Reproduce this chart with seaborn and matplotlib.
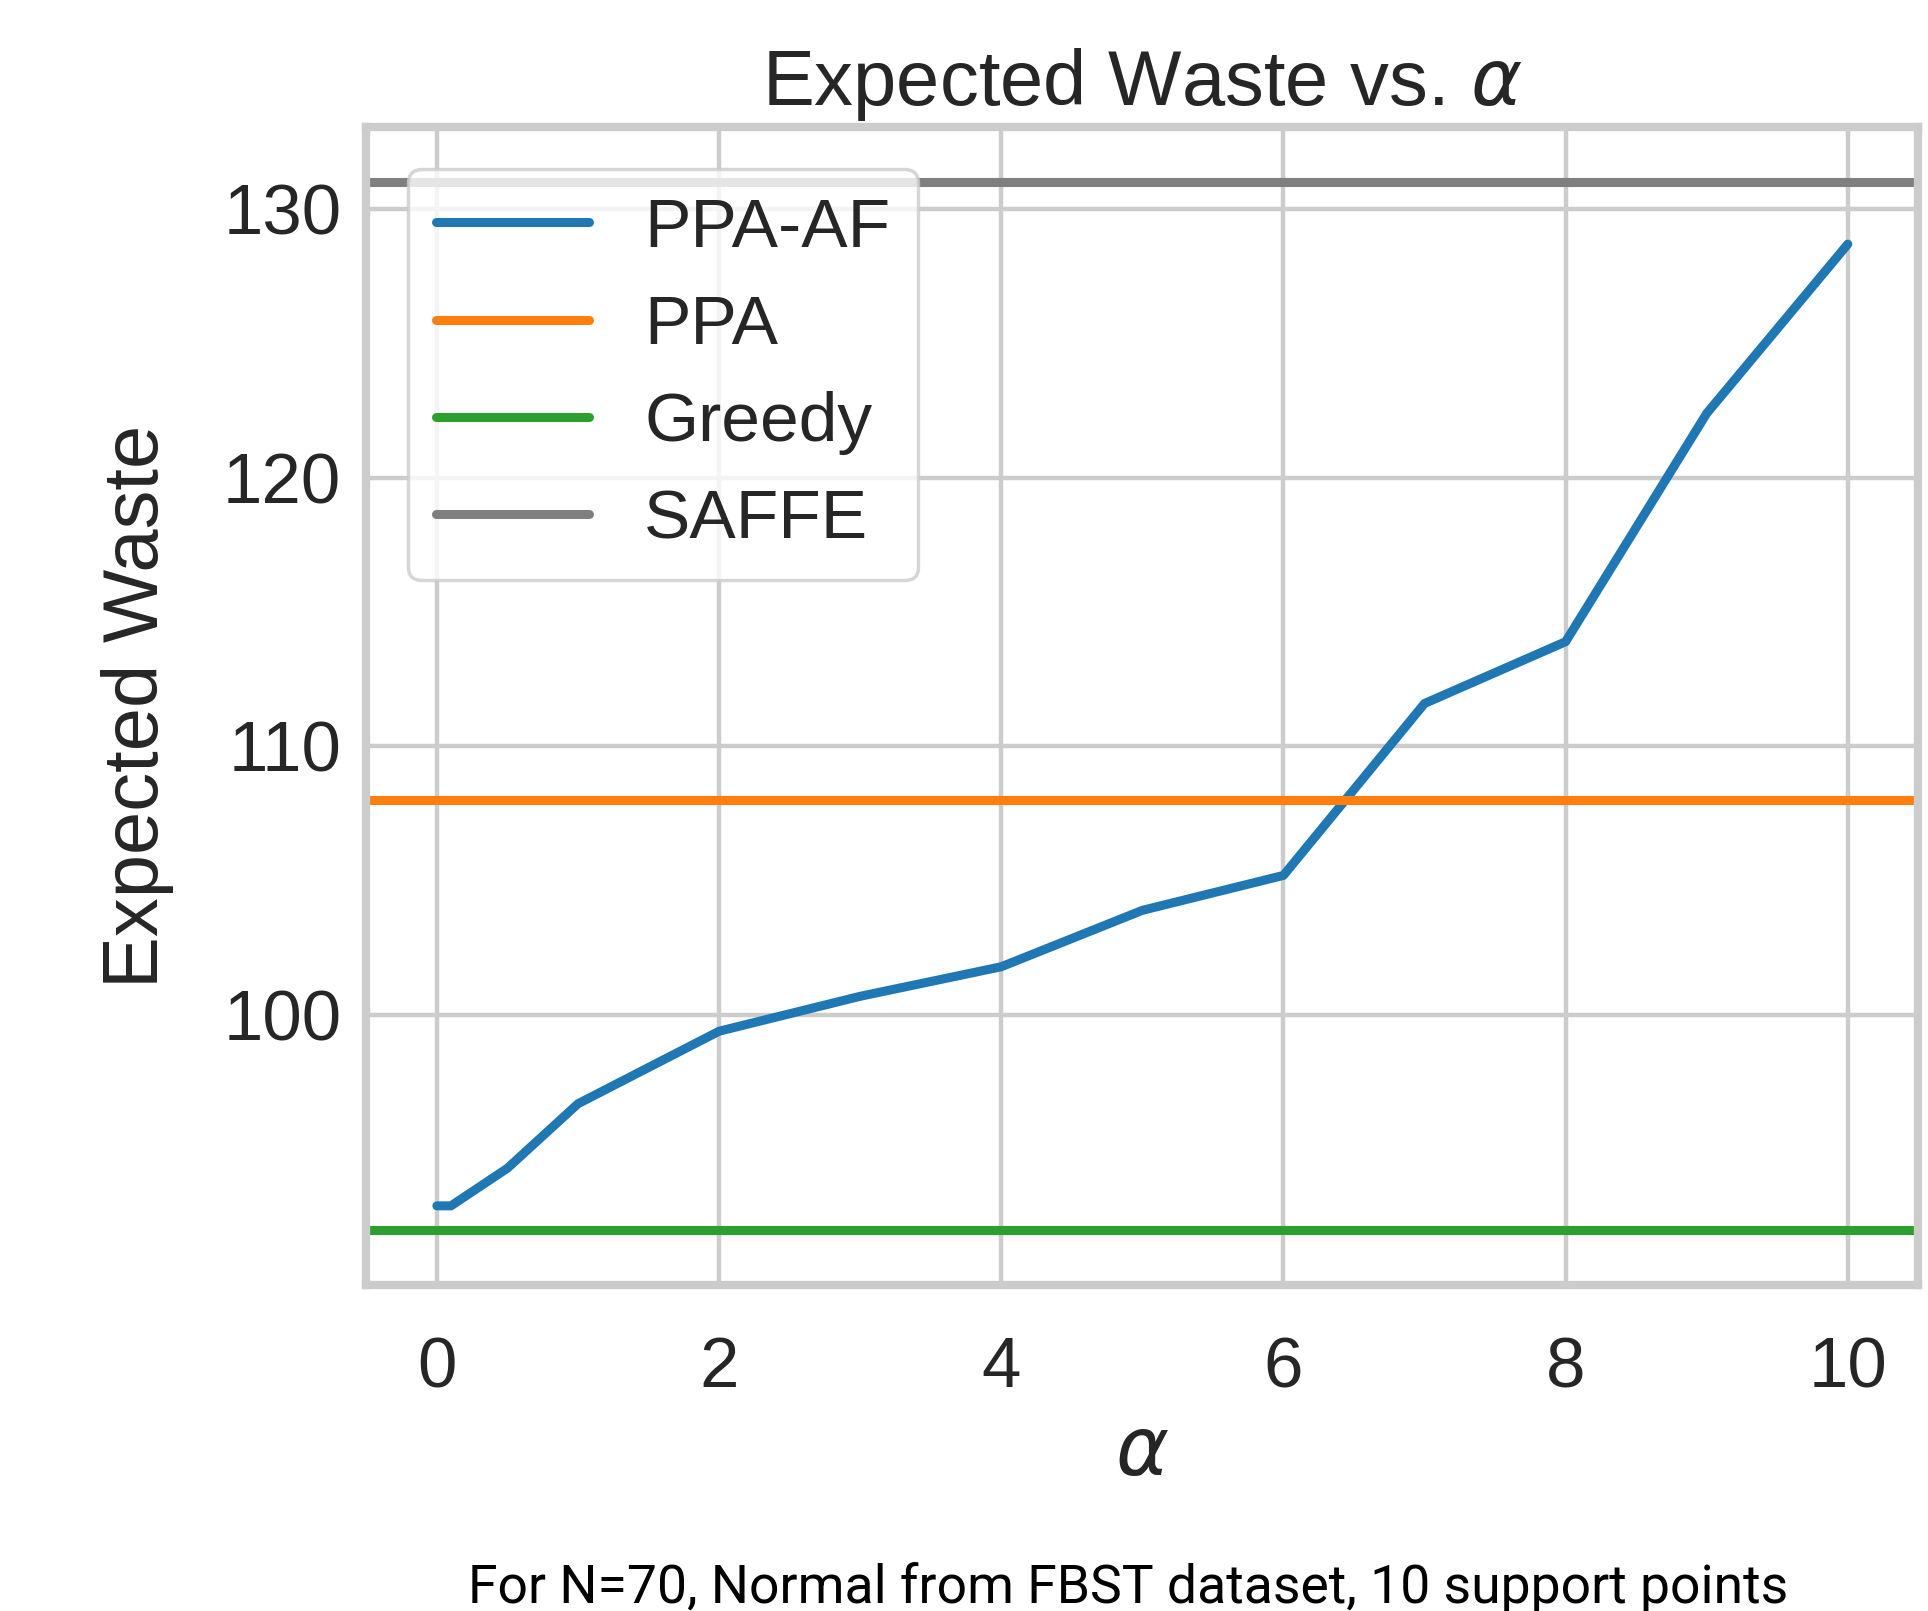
import numpy as np
import pandas as pd
import seaborn as sns
import matplotlib.pyplot as plt

sns.set_theme(style="whitegrid")
plt.rcParams['font.family'] = ['Liberation Sans', 'DejaVu Sans']

# values
alpha = [0, 0.1, 0.5, 1, 2, 3, 4, 5, 6, 7, 8, 9, 10]
ppa_af = [92.9, 92.9, 94.3, 96.7, 99.4, 100.7, 101.8, 103.9, 105.2, 111.6, 113.9, 122.4, 128.7]
ppa = 108.0
greedy = 92.0
saffe = 131.0

methods = ["PPA-AF", "PPA", "Greedy", "SAFFE"]
colors = ["#1f77b4", "#ff7f0e", "#2ca02c", "#7f7f7f"]

df = pd.concat([
    pd.DataFrame({"alpha": alpha, "waste": ppa_af, "method": "PPA-AF"}),
    pd.DataFrame({"alpha": alpha, "waste": [ppa] * len(alpha), "method": "PPA"}),
    pd.DataFrame({"alpha": alpha, "waste": [greedy] * len(alpha), "method": "Greedy"}),
    pd.DataFrame({"alpha": alpha, "waste": [saffe] * len(alpha), "method": "SAFFE"}),
])

fig = plt.figure(figsize=(19.28, 16.11), dpi=100)
ax = fig.add_axes([0.19, 0.2023, 0.805, 0.7187])

lw = 6.5
sns.lineplot(data=df, x="alpha", y="waste", hue="method", hue_order=methods,
             palette=colors, linewidth=lw, ax=ax)

ax.set_xlim(-0.5, 10.5)
ax.set_ylim(89.95, 133.05)
# constant baselines run across the whole axes
for c, v in [(colors[1], ppa), (colors[2], greedy), (colors[3], saffe)]:
    ax.axhline(v, color=c, linewidth=lw, zorder=1.9)

ax.set_xticks([0, 2, 4, 6, 8, 10])
ax.set_yticks([100, 110, 120, 130])
ax.tick_params(axis="x", labelsize=51, pad=31)
ax.tick_params(axis="y", labelsize=51, pad=12)
ax.grid(True, color="#cccccc", linewidth=3.2)
for s in ax.spines.values():
    s.set_color("#cccccc")
    s.set_linewidth(6)

ax.set_title(r"Expected Waste vs. $\alpha$", fontsize=56, pad=16)
ax.set_xlabel(r"$\alpha$", fontsize=58, labelpad=10)
ax.set_ylabel("Expected Waste", fontsize=56, labelpad=35)

leg = ax.legend(loc="upper left", fontsize=50, handlelength=2.2,
                borderaxespad=0.6, labelspacing=0.48, frameon=True)
leg.get_frame().set_edgecolor("#cccccc")
leg.get_frame().set_linewidth(2.5)
for h in leg.get_lines():
    h.set_linewidth(lw)

fig.text(0.585, 0.005, "For N=70, Normal from FBST dataset, 10 support points",
         ha="center", va="baseline", fontsize=38.5, color="black",
         family=["Roboto", "DejaVu Sans"])

fig.savefig("out.png", dpi=100, facecolor="white")
